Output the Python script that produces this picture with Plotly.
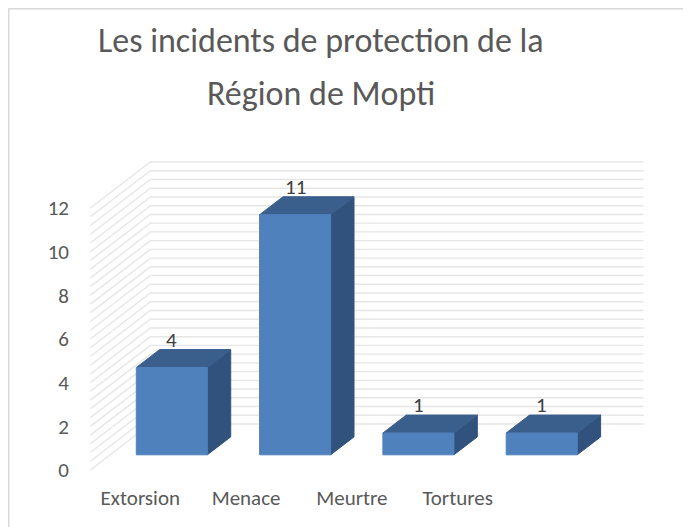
import plotly.graph_objects as go
import numpy as np

# ---------------- data ----------------
categories = ["Extorsion", "Menace", "Meurtre", "Tortures"]
values = [4, 11, 1, 1]
y_ticks = [0, 2, 4, 6, 8, 10, 12]
title_lines = ["Les incidents de protection de la", "Région de Mopti"]

# ---------------- geometry / style ----------------
OFF = 8                      # page body margin
W, H = 691 - OFF, 527 - OFF
ML, MR, MT, MB = 70 - OFF, 0, 0, 44
PW, PH = W - ML - MR, H - MT - MB
PX_X = 123.3      # px per category (front plane)
PX_Y = 21.83      # px per value unit
X0_PX = 152 - OFF # figure px of first category centre (front plane)
Y0_PX = 470 - OFF # figure px of value 0 (front plane)

x_range = [(ML - X0_PX) / PX_X, (W - MR - X0_PX) / PX_X]
y_range = [(Y0_PX - (H - MB)) / PX_Y, (Y0_PX - MT) / PX_Y]

def px_to_paper_x(px):
    return (px - ML) / PW

def px_to_paper_y(py):
    return 1 - (py - MT) / PH

DX = 60 / PX_X    # full depth shift in x units
DY = 46 / PX_Y    # full depth shift in y units
ZF, ZB = 0.33, 0.72   # bar front / back depth
BW = 0.576            # bar width (category units)

FONT = "Carlito, Calibri, Lato, sans-serif"
TXT = "#595959"
C_FRONT = "#4F81BD"
C_TOP = "#3B5F8C"
C_SIDE = "#31527D"
GRID = "#E6E6E6"

n = len(categories)
fig = go.Figure()

# back wall + side wall gridlines
gx, gy = [], []
for g in np.arange(0, y_ticks[-1] + 0.01, 0.4):
    gx += [-0.5, -0.5 + DX, n - 0.5 + DX, None]
    gy += [g, g + DY, g + DY, None]
fig.add_trace(go.Scatter(x=gx, y=gy, mode="lines",
                         line=dict(color=GRID, width=1.4),
                         hoverinfo="skip", showlegend=False))

# 3D bars
for i, (cat, v) in enumerate(zip(categories, values)):
    xl = i - BW / 2 + ZF * DX
    xr = i + BW / 2 + ZF * DX
    yb = ZF * DY
    yt = v + ZF * DY
    ddx = (ZB - ZF) * DX
    ddy = (ZB - ZF) * DY
    fig.add_trace(go.Scatter(
        x=[xr, xr, xr + ddx, xr + ddx, xr],
        y=[yb, yt, yt + ddy, yb + ddy, yb],
        fill="toself", fillcolor=C_SIDE, mode="lines",
        line=dict(color=C_SIDE, width=1), hoverinfo="skip", showlegend=False))
    fig.add_trace(go.Scatter(
        x=[xl, xr, xr + ddx, xl + ddx, xl],
        y=[yt, yt, yt + ddy, yt + ddy, yt],
        fill="toself", fillcolor=C_TOP, mode="lines",
        line=dict(color=C_TOP, width=1), hoverinfo="skip", showlegend=False))
    fig.add_trace(go.Scatter(
        x=[xl, xr, xr, xl, xl],
        y=[yb, yb, yt, yt, yb],
        fill="toself", fillcolor=C_FRONT, mode="lines",
        line=dict(color=C_FRONT, width=1), name=cat, showlegend=False))
    fig.add_annotation(x=i + ZF * DX, y=v + ZB * DY, text=str(v),
                       showarrow=False, yanchor="bottom", yshift=-5,
                       font=dict(family=FONT, size=21, color="#404040"))

# title lines (baselines at screen y 54 and 107)
for k, line in enumerate(title_lines):
    fig.add_annotation(x=px_to_paper_x(321 - OFF),
                       y=px_to_paper_y(54 + 53 * k - OFF + 9),
                       xref="paper", yref="paper",
                       text=line, showarrow=False, yanchor="bottom", xanchor="center",
                       font=dict(family=FONT, size=34, color=TXT))

# chart border
fig.add_shape(type="rect", xref="paper", yref="paper",
              x0=px_to_paper_x(0.5), x1=px_to_paper_x(W + 20),
              y0=px_to_paper_y(H + 20), y1=px_to_paper_y(0.5),
              line=dict(color="#D9D9D9", width=2), layer="below")

label_pos = [-0.095 + 0.858 * i for i in range(n)]

fig.update_layout(
    width=W, height=H,
    margin=dict(l=ML, r=MR, t=MT, b=MB),
    paper_bgcolor="white", plot_bgcolor="white",
    xaxis=dict(range=x_range, tickvals=label_pos, ticktext=categories,
               showgrid=False, zeroline=False, showline=False, ticks="",
               tickfont=dict(family=FONT, size=21, color=TXT), fixedrange=True),
    yaxis=dict(range=y_range, tickvals=y_ticks,
               showgrid=False, zeroline=False, showline=False, ticks="",
               tickfont=dict(family=FONT, size=21, color=TXT), fixedrange=True),
    showlegend=False,
)

fig.write_html("out.html")
